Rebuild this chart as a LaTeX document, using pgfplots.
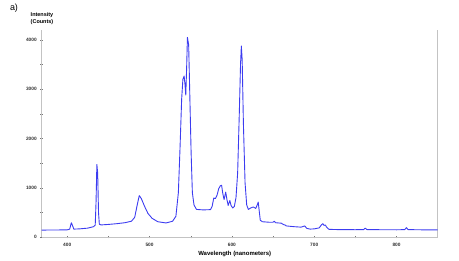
\documentclass[border=0pt]{standalone}
\usepackage{fontspec}
\setmainfont{Liberation Sans}
\usepackage{pgfplots}
\pgfplotsset{compat=1.18}
\definecolor{spec}{RGB}{60,60,240}
\definecolor{axgray}{RGB}{195,195,195}
\definecolor{tickgray}{RGB}{120,120,120}
\begin{document}
\begin{tikzpicture}
\path[use as bounding box] (0,0) rectangle (459bp,261bp);
\begin{axis}[
  at={(41.7bp,24bp)}, anchor=south west,
  scale only axis, width=396bp, height=207bp,
  xmin=369, xmax=850, ymin=0, ymax=4200,
  axis x line*=bottom, axis y line*=box,
  axis line style={axgray, line width=0.8pt},
  xtick={400,500,600,700,800}, minor xtick={450,550,650,750},
  ytick={0,1000,2000,3000,4000}, minor ytick={500,1500,2500,3500},
  ytick pos=left,
  tick align=center,
  major tick length=3bp, minor tick length=3bp,
  every tick/.style={tickgray, line width=0.4pt},
  tick label style={font=\fontsize{4.8}{5}\selectfont\bfseries, text=black!80},
  /pgf/number format/assume math mode=true,
  /pgf/number format/1000 sep={},
  xticklabel style={yshift=-1bp},
  clip=false,
]
\addplot[spec, line width=0.9pt, line join=round] coordinates {
(369,140) (380,142) (390,143) (400,145) (403,160) (405,290) (406.5,230) (408,160)
(415,165) (425,180) (432,210) (434,240) (435,700) (436,1470) (437,1300) (438,500)
(439,260) (441,245) (450,255) (460,270) (470,290) (478,320) (482,400) (485,650)
(487.5,840) (490,780) (494,620) (498,480) (503,380) (510,310) (520,285) (528,320)
(532,420) (535,900) (537,1800) (539,2800) (540.5,3200) (542,3265) (543,3100) (544,2880)
(545,3400) (546,4050) (547.5,3900) (549,2800) (550.5,1700) (552,900) (554,650) (557,560)
(565,550) (574,555) (576,620) (578,790) (580,780) (582,850) (584,980) (586,1040)
(587.5,1050) (589,880) (590.5,760) (592.5,910) (594,760) (595.5,640) (597.5,740) (599,640)
(601,590) (603,620) (605,800) (607,1300) (609,2500) (610.5,3500) (611.5,3875) (612.5,3600)
(614,2300) (616,1100) (618,650) (620,560) (623,590) (626,610) (629,580) (631,660)
(632,710) (633,560) (634.5,340) (637,310) (645,300) (650,300) (651.5,320) (653,290)
(660,280) (663,250) (664.5,245) (666,225) (675,210) (684,200) (688.5,225) (691,175)
(695,160) (700,165) (706,185) (709,250) (710.5,270) (712,235) (713.5,245) (715,200)
(718,155) (730,150) (750,148) (760,150) (762,180) (764,150) (780,148) (800,146)
(810,150) (812,190) (814,150) (830,146) (850,144)
};
\end{axis}
\node[font=\fontsize{9}{10}\selectfont] at (14bp,253bp) {a)};
\node[font=\fontsize{5.5}{7}\selectfont\bfseries, align=center] at (42bp,242bp) {Intensity\\(Counts)};
\node[font=\fontsize{6}{7}\selectfont\bfseries] at (234.7bp,7bp) {Wavelength (nanometers)};
\end{tikzpicture}
\end{document}
